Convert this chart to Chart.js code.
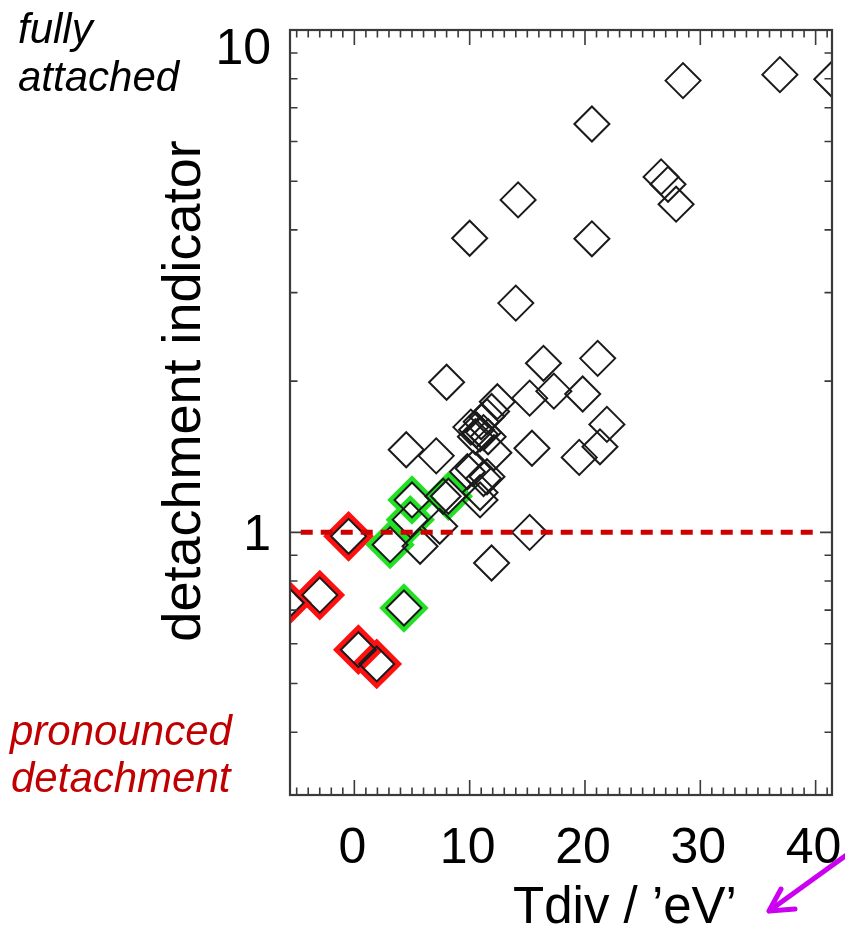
<!DOCTYPE html>
<html><head><meta charset="utf-8">
<script src="https://cdn.jsdelivr.net/npm/chart.js@4.4.1/dist/chart.umd.min.js"></script>
<style>html,body{margin:0;padding:0;background:#fff;}#wrap{width:845px;height:927px;}</style>
</head><body><div id="wrap"><canvas id="c" width="845" height="927"></canvas></div>
<script>
// ---- data (Tdiv in eV, detachment indicator) ----
const blackX = [28.5,36.9,41.4,20.6,26.6,27.2,27.9,14.2,10.0,20.6,14.0,16.4,21.1,8.0,17.3,15.2,19.8,12.4,11.9,11.5,11.0,10.1,10.6,10.9,11.2,11.6,10.5,12.1,21.9,21.3,19.5,15.4,4.5,7.1,10.3,9.8,11.2,11.5,10.9,10.9,7.7,7.4,5.7,15.2,11.9];
const blackY = [7.93,8.15,7.98,6.50,5.10,4.93,4.50,4.59,3.85,3.84,2.86,2.17,2.22,1.99,1.91,1.85,1.885,1.82,1.74,1.70,1.66,1.62,1.60,1.57,1.58,1.55,1.55,1.44,1.64,1.48,1.41,1.47,1.46,1.42,1.34,1.32,1.28,1.29,1.20,1.16,1.18,1.028,0.938,1.0,0.869];
const greenX = [5.0,4.85,8.15,3.1,4.3];
const greenY = [1.16,1.06,1.18,0.945,0.707];
const redX = [-0.5,-3.0,-5.9,0.35,1.94];
const redY = [0.982,0.75,0.724,0.584,0.547];
const refLineX = [-4.65,40.4];
const refLineY = [1,1];
const xTickLabels = [0,10,20,30,40];
const yTickLabels = [1,10];
const yMinorTicks = [0.4,0.5,0.6,0.7,0.8,0.9,2,3,4,5,6,7,8,9];
const xTitle = 'Tdiv / \u2019eV\u2019';
const yTitle = 'detachment indicator';

const pts = (xs, ys) => xs.map((x, i) => ({x, y: ys[i]}));
const FONT = '"Liberation Sans", Arial, sans-serif';

const framePlugin = {
  id: 'frame',
  afterDraw(chart) {
    const ctx = chart.ctx, ca = chart.chartArea;
    const xs = chart.scales.x, ys = chart.scales.y;
    ctx.save();
    ctx.strokeStyle = '#3a3a3a';
    ctx.lineWidth = 1.6;
    ctx.beginPath();
    for (let v = Math.ceil(xs.min); v <= xs.max; v++) {
      const px = xs.getPixelForValue(v);
      const len = (v % 10 === 0) ? 15 : 7.5;
      ctx.moveTo(px, ca.bottom); ctx.lineTo(px, ca.bottom - len);
      ctx.moveTo(px, ca.top); ctx.lineTo(px, ca.top + len);
    }
    yMinorTicks.concat(yTickLabels).forEach(v => {
      const py = ys.getPixelForValue(v);
      const len = yTickLabels.includes(v) ? 12 : 7.5;
      ctx.moveTo(ca.left, py); ctx.lineTo(ca.left + len, py);
      ctx.moveTo(ca.right, py); ctx.lineTo(ca.right - len, py);
    });
    ctx.stroke();
    ctx.lineWidth = 2.2;
    ctx.strokeRect(ca.left, ca.top, ca.right - ca.left, ca.bottom - ca.top);

    // tick labels
    ctx.fillStyle = '#000';
    ctx.font = '50px ' + FONT;
    ctx.textAlign = 'center';
    ctx.textBaseline = 'alphabetic';
    xTickLabels.forEach(v => ctx.fillText(String(v), xs.getPixelForValue(v) - 2, 863));
    ctx.textAlign = 'right';
    yTickLabels.forEach(v => {
      const py = Math.max(ys.getPixelForValue(v) + 18, ca.top + 34);
      ctx.fillText(String(v), 271, py);
    });

    // axis titles
    ctx.font = '51px ' + FONT;
    ctx.textAlign = 'center';
    ctx.fillText(xTitle, 625, 923);
    ctx.save();
    ctx.translate(200, 391);
    ctx.rotate(-Math.PI / 2);
    ctx.font = '54px ' + FONT;
    ctx.fillText(yTitle, 0, 0);
    ctx.restore();

    // annotations
    ctx.textAlign = 'left';
    ctx.font = 'italic 42px ' + FONT;
    ctx.fillStyle = '#000';
    ctx.fillText('fully', 18, 43);
    ctx.fillText('attached', 18, 91);
    ctx.fillStyle = '#c00000';
    ctx.fillText('pronounced', 10, 745);
    ctx.fillText('detachment', 11, 792);

    // magenta arrow
    ctx.strokeStyle = '#cc00f0';
    ctx.lineWidth = 5;
    ctx.lineCap = 'round';
    ctx.lineJoin = 'round';
    ctx.beginPath();
    ctx.moveTo(852, 851); ctx.lineTo(769, 911);
    ctx.moveTo(781, 889); ctx.lineTo(769, 911); ctx.lineTo(795, 909);
    ctx.stroke();
    ctx.restore();
  }
};

const diamond = {pointStyle: 'rectRot', backgroundColor: 'rgba(0,0,0,0)', showLine: false, clip: 0};

new Chart(document.getElementById('c'), {
  type: 'scatter',
  data: {
    datasets: [
      {label: 'ref', data: pts(refLineX, refLineY), showLine: true, borderColor: '#cc0000', borderWidth: 5,
       borderDash: [12, 8], borderCapStyle: 'butt', pointRadius: 0, order: 0, clip: 0},
      Object.assign({label: 'all', data: pts(blackX.concat(greenX, redX), blackY.concat(greenY, redY)),
       pointRadius: 17.5, borderColor: '#1a1a1a', borderWidth: 2, pointBorderWidth: 2, order: 1}, diamond),
      Object.assign({label: 'green', data: pts(greenX, greenY), pointRadius: 21.5, borderColor: '#22e022',
       pointBorderWidth: 4.5, borderWidth: 4.5, order: 2}, diamond),
      Object.assign({label: 'red', data: pts(redX, redY), pointRadius: 21.5, borderColor: '#ff1010',
       pointBorderWidth: 5.5, borderWidth: 5.5, order: 3}, diamond)
    ]
  },
  options: {
    responsive: false,
    animation: false,
    devicePixelRatio: 1,
    events: [],
    layout: {autoPadding: false, padding: {left: 290, top: 30, right: 13, bottom: 132}},
    plugins: {legend: {display: false}, tooltip: {enabled: false}},
    scales: {
      x: {type: 'linear', min: -5.58, max: 41.42, display: false},
      y: {type: 'logarithmic', min: 0.3, max: 10, display: false}
    }
  },
  plugins: [framePlugin]
});
</script></body></html>
